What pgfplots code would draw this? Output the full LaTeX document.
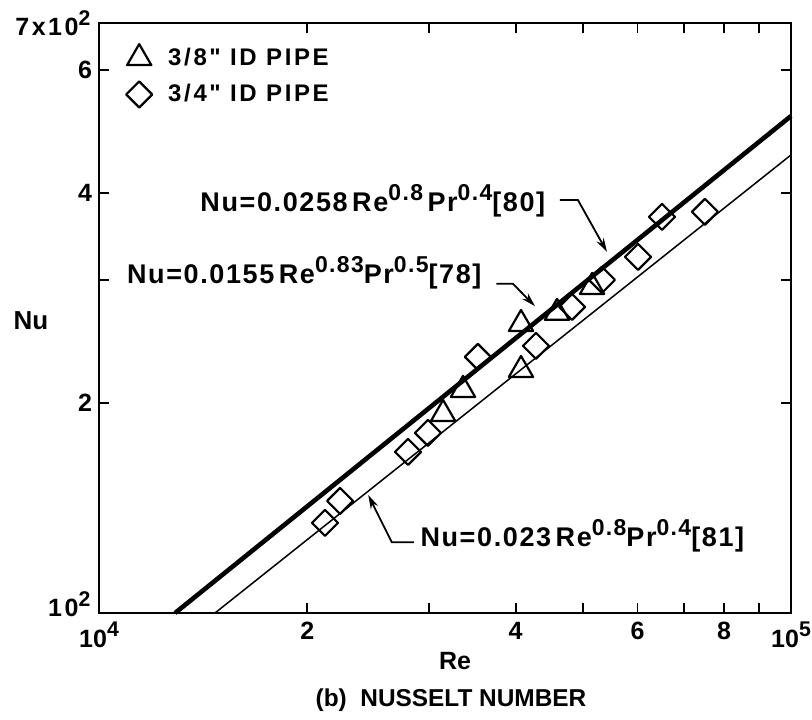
\documentclass[border=0pt]{standalone}
\usepackage{fontspec}
\setmainfont{Liberation Sans}
\newfontfamily\eqfont[LetterSpace=6]{Liberation Sans}
\newfontfamily\legfont[LetterSpace=11]{Liberation Sans}
\newfontfamily\lblfont[LetterSpace=10]{Liberation Sans}
\usepackage{pgfplots}
\pgfplotsset{compat=1.18}
\usetikzlibrary{arrows.meta}
\newcommand{\ex}[1]{\raisebox{0.42em}{\scalebox{0.85}{#1}}}
\begin{document}
\begin{tikzpicture}
\useasboundingbox (-49.5pt,-53pt) rectangle (356.5pt,306.5pt);
\begin{axis}[
  scale only axis, width=346pt, height=295pt,
  xmode=log, ymode=log,
  xmin=10000, xmax=100000, ymin=100, ymax=700,
  axis line style={line width=1.1pt},
  xtick={10000,20000,40000,60000,80000,100000},
  xticklabels={10\ex{4},2,4,6,8,10\ex{5}},
  minor xtick={30000,50000,70000,90000},
  ytick={200,300,400,600},
  yticklabels={2,{},4,6},
  minor ytick={},
  tick align=inside,
  major tick length=5pt, minor tick length=5pt,
  every tick/.style={line width=0.9pt, black},
  xticklabel style={font=\fontsize{12.5}{12.5}\selectfont\bfseries, yshift=-1pt},
  yticklabel style={font=\fontsize{12.5}{12.5}\selectfont\bfseries},
  clip=false,
  legend style={at={(rel axis cs:0.030,0.972)}, anchor=north west, draw=none, fill=none,
    font=\fontsize{12}{12}\selectfont\bfseries\legfont, row sep=4pt,
    /tikz/every odd column/.append style={column sep=6pt}},
  legend cell align=left,
]
% correlation lines
\addplot[black, line width=0.75pt, forget plot] coordinates {(14710,100) (100000,453)};
\addplot[black, line width=2.3pt, forget plot] coordinates {(12880,100) (100000,515)};
% 3/8" pipe
\addplot[only marks, mark=triangle, mark size=7pt, mark options={fill=white, line width=1.1pt, line join=round}] coordinates {
(31420,192.8) (33570,208.7) (40720,222.9) (40720,259.4) (45900,269.1) (51580,293.1)
};
\addlegendentry{3/8" ID PIPE}
% 3/4" pipe
\addplot[only marks, mark=square, mark size=4.6pt, mark options={rotate=45, fill=white, line width=1.1pt, line join=round}] coordinates {
(21210,134.6) (22300,144.7) (27960,170.1) (29880,181.1) (35280,232.7) (42800,241.3)
(48260,274.4) (53300,300) (60100,323.6) (65100,369.3) (75100,375.5)
};
\addlegendentry{3/4" ID PIPE}
% labels on the left
\node[anchor=east, font=\fontsize{12.5}{12.5}\selectfont\bfseries\lblfont, inner sep=0pt] at (rel axis cs:-0.012,1.0) {7x10\ex{2}};
\node[anchor=east, font=\fontsize{12.5}{12.5}\selectfont\bfseries\lblfont, inner sep=0pt] at (rel axis cs:-0.012,0.015) {10\ex{2}};
% equation annotations
\begin{scope}[font=\fontsize{13.5}{13.5}\selectfont\bfseries\eqfont]
\node[anchor=base west, inner sep=0pt] at (rel axis cs:0.146,0.680) {Nu=0.0258\,Re\ex{0.8}\,Pr\ex{0.4}[80]};
\node[anchor=base west, inner sep=0pt] at (rel axis cs:0.040,0.558) {Nu=0.0155\,Re\ex{0.83}Pr\ex{0.5}[78]};
\node[anchor=base west, inner sep=0pt] at (rel axis cs:0.464,0.112) {Nu=0.023\,Re\ex{0.8}Pr\ex{0.4}[81]};
\end{scope}
\draw[line width=0.9pt, -{Stealth[length=7pt,width=4pt]}] (rel axis cs:0.666,0.700) -- (rel axis cs:0.692,0.700) -- (rel axis cs:0.734,0.612);
\draw[line width=0.9pt, -{Stealth[length=7pt,width=4pt]}] (rel axis cs:0.574,0.558) -- (rel axis cs:0.598,0.558) -- (rel axis cs:0.630,0.520);
\draw[line width=0.9pt, -{Stealth[length=7pt,width=4pt]}] (rel axis cs:0.455,0.120) -- (rel axis cs:0.423,0.120) -- (rel axis cs:0.389,0.200);
\end{axis}
\node[font=\fontsize{12.5}{12.5}\selectfont\bfseries] at (178pt,-24pt) {Re};
\node[font=\fontsize{13}{13}\selectfont\bfseries] at (-34pt,146pt) {Nu};
\node[font=\fontsize{12.2}{12.2}\selectfont\bfseries] at (176pt,-43.5pt) {(b)\ \ NUSSELT NUMBER};
\end{tikzpicture}
\end{document}
